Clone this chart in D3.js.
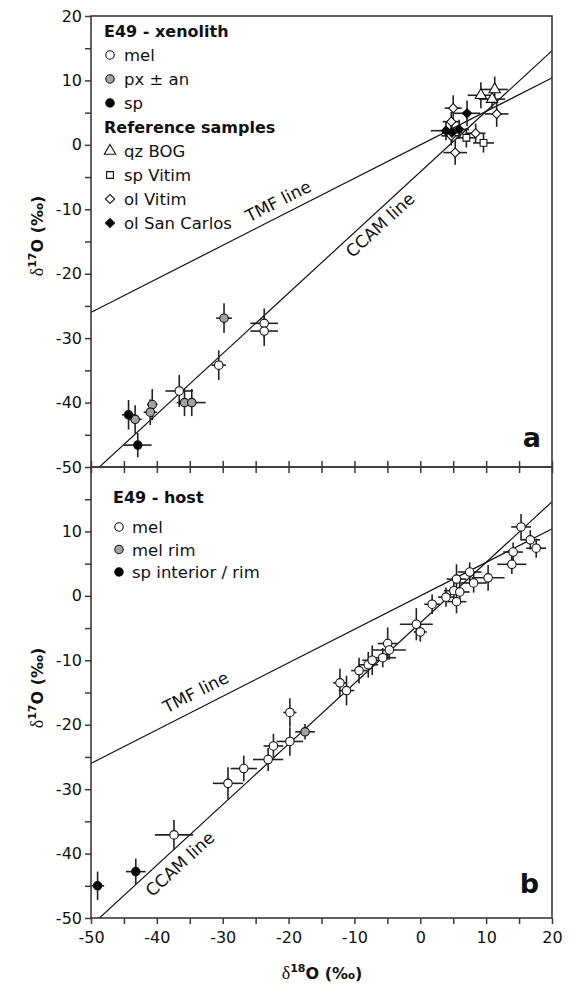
<!doctype html>
<html>
<head>
<meta charset="utf-8"/>
<script src="https://d3js.org/d3.v7.min.js"></script>
<style>
  body { margin: 0; background: #fff; }
  text { font-family: "DejaVu Sans", sans-serif; fill: #111; }
</style>
</head>
<body>
<svg id="chart"></svg>
<script>
// each point: [d18O, d17O, err18, err17]
var xenoMel = [[-23.7,-27.7,2.1,2.3],[-23.7,-28.9,2.1,2.3],[-30.6,-34.2,1.1,2.3],[-36.6,-38.2,2.1,2.5]];
var xenoPx = [[-29.8,-26.9,1.2,2.3],[-35.8,-40.0,1.2,2.1],[-34.7,-40.0,2.1,2.1],[-40.7,-40.3,0.8,2.4],[-41.0,-41.5,1.0,2.0],[-43.3,-42.6,1.0,2.2]];
var xenoSp = [[-44.3,-41.9,1.0,2.3],[-42.9,-46.6,2.1,1.9]];
var qzBog = [[9.2,7.7,2.0,2.0],[11.3,8.6,2.0,2.0],[10.9,7.1,2.0,1.5]];
var spVitim = [[7.0,1.1,1.5,1.5],[9.6,0.3,1.6,1.5]];
var olVitim = [[5.0,5.7,1.3,2.0],[11.6,4.8,1.8,2.0],[4.7,3.6,1.3,1.5],[8.4,1.8,1.5,1.5],[5.3,-1.2,1.8,1.9],[4.7,1.4,1.5,1.5]];
var olSanCarlos = [[7.1,4.9,2.0,2.0],[3.9,2.2,2.3,1.5],[4.8,1.9,1.5,1.5],[5.9,2.4,1.5,1.5]];

var hostMel = [[-37.4,-37.1,2.9,2.3],[-29.2,-29.1,2.3,2.5],[-26.8,-26.8,2.0,2.0],[-23.1,-25.4,2.3,1.8],
  [-22.3,-23.3,1.5,1.9],[-19.8,-22.6,2.0,2.2],[-19.8,-18.1,1.0,2.2],[-12.2,-13.5,1.0,2.2],[-11.2,-14.7,1.2,2.3],
  [-9.3,-11.6,1.2,2.0],[-7.9,-10.7,1.5,2.0],[-7.3,-10.0,1.5,2.3],[-5.7,-9.6,2.0,1.5],[-4.95,-7.4,1.5,2.5],
  [-4.7,-8.4,2.5,1.5],[-0.6,-4.4,2.5,2.5],[0.0,-5.6,1.0,1.5],[1.8,-1.3,1.2,1.5],[3.9,-0.2,1.2,1.5],
  [5.1,0.8,1.5,1.5],[6.0,0.6,1.5,1.8],[5.5,-0.9,1.5,1.8],[5.5,2.6,1.5,2.3],[7.5,3.7,1.8,1.5],[8.1,2.0,2.0,1.5],
  [10.3,2.8,2.5,2.0],[13.9,4.9,2.2,1.5],[14.1,6.8,1.5,1.5],[15.3,10.7,1.5,2.0],[16.7,8.7,1.5,1.5],[17.6,7.4,1.5,1.5]];
var hostMelRim = [[-17.5,-21.1,1.5,1.2]];
var hostSp = [[-49.0,-45.0,1.0,2.2],[-43.2,-42.8,1.5,2.0]];

// [name, slope, intercept]
var refLines = [["TMF line", 0.52, 0], ["CCAM line", 0.94, -4.2]];
var xTicks = d3.range(-50, 21, 5);
var yTicks = d3.range(-50, 21, 5);

var W = 571, H = 985;
var svg = d3.select("#chart").attr("width", W).attr("height", H);

var x = d3.scaleLinear().domain([-50, 20]).range([91, 552]);
var yA = d3.scaleLinear().domain([-50, 20]).range([467, 16]);
var yB = d3.scaleLinear().domain([-50, 20]).range([918, 467]);

var grey = "#a3a3a3";

function shape(kind, size) {
  if (kind == "circle") return d3.symbol().type(d3.symbolCircle).size(size)();
  if (kind == "triangle") return d3.symbol().type(d3.symbolTriangle).size(size)();
  return d3.symbol().type(d3.symbolSquare).size(size)();
}
var sizes = {circle: 56, triangle: 56, square: 46, diamond: 42};

function drawPanel(y, id, series, lineLabels) {
  var g = svg.append("g");
  svg.append("clipPath").attr("id", id).append("rect")
    .attr("x", x(-50)).attr("y", y(20)).attr("width", x(20) - x(-50)).attr("height", y(-50) - y(20));

  // reference lines
  var lg = g.append("g").attr("clip-path", "url(#" + id + ")");
  refLines.forEach(function(l, i) {
    lg.append("line")
      .attr("x1", x(-55)).attr("y1", y(l[1] * -55 + l[2]))
      .attr("x2", x(25)).attr("y2", y(l[1] * 25 + l[2]))
      .attr("stroke", "#111").attr("stroke-width", 1.2);
    var lab = lineLabels[i];
    var px = x(lab[0]), py = y(l[1] * lab[0] + l[2]);
    var ang = Math.atan2(y(l[1] * (lab[0] + 1) + l[2]) - py, x(lab[0] + 1) - px) * 180 / Math.PI;
    g.append("text")
      .attr("transform", "translate(" + px + "," + py + ") rotate(" + ang + ")")
      .attr("y", lab[1]).attr("text-anchor", "middle").attr("dominant-baseline", "central")
      .style("font-size", "17px").text(l[0]);
  });

  // error bars then markers
  series.forEach(function(s) {
    var pg = g.append("g");
    pg.selectAll(".ex").data(s.data).enter().append("line")
      .attr("x1", d => x(d[0] - d[2])).attr("x2", d => x(d[0] + d[2]))
      .attr("y1", d => y(d[1])).attr("y2", d => y(d[1]))
      .attr("stroke", "#222").attr("stroke-width", 1.6);
    pg.selectAll(".ey").data(s.data).enter().append("line")
      .attr("x1", d => x(d[0])).attr("x2", d => x(d[0]))
      .attr("y1", d => y(d[1] - d[3])).attr("y2", d => y(d[1] + d[3]))
      .attr("stroke", "#222").attr("stroke-width", 1.6);
  });
  series.forEach(function(s) {
    g.append("g").selectAll("path").data(s.data).enter().append("path")
      .attr("d", shape(s.shape, sizes[s.shape]))
      .attr("transform", d => "translate(" + x(d[0]) + "," + y(d[1]) + ")" + (s.shape == "diamond" ? " rotate(45)" : ""))
      .attr("fill", s.fill).attr("stroke", "#111").attr("stroke-width", 1.1);
  });

  // frame
  g.append("rect").attr("x", x(-50)).attr("y", y(20))
    .attr("width", x(20) - x(-50)).attr("height", y(-50) - y(20))
    .attr("fill", "none").attr("stroke", "#3a3a3a").attr("stroke-width", 1.6);

  // left axis
  var ax = g.append("g").attr("transform", "translate(" + x(-50) + ",0)")
    .call(d3.axisLeft(y).tickValues(id == "clipB" ? yTicks.filter(v => v < 20) : yTicks)
      .tickSize(6).tickPadding(3)
      .tickFormat(v => v % 10 == 0 ? v : ""));
  ax.select(".domain").remove();
  ax.selectAll("line").attr("stroke", "#3a3a3a").attr("stroke-width", 1.5);
  ax.selectAll("text").style("font-size", "16px").attr("fill", "#111")
    .style("font-family", "'DejaVu Sans', sans-serif");
  return g;
}

var lgA = drawPanel(yA, "clipA", [
  {data: xenoMel, shape: "circle", fill: "#fff"},
  {data: xenoPx, shape: "circle", fill: grey},
  {data: xenoSp, shape: "circle", fill: "#000"},
  {data: qzBog, shape: "triangle", fill: "#fff"},
  {data: spVitim, shape: "square", fill: "#fff"},
  {data: olVitim, shape: "diamond", fill: "#fff"},
  {data: olSanCarlos, shape: "diamond", fill: "#000"}
], [[-20.6, -14.3], [-7.3, 11.8]]);

var lgB = drawPanel(yB, "clipB", [
  {data: hostMel, shape: "circle", fill: "#fff"},
  {data: hostMelRim, shape: "circle", fill: grey},
  {data: hostSp, shape: "circle", fill: "#000"}
], [[-33.0, -16], [-38.0, 14.7]]);

// ticks on the shared boundary and bottom axis
function tickRow(axis, yPos, labels) {
  var a = svg.append("g").attr("transform", "translate(0," + yPos + ")")
    .call(axis(x).tickValues(xTicks).tickSize(6).tickPadding(8)
      .tickFormat(v => labels && v % 10 == 0 ? v : ""));
  a.select(".domain").remove();
  a.selectAll("line").attr("stroke", "#3a3a3a").attr("stroke-width", 1.5);
  a.selectAll("text").style("font-size", "16px").attr("fill", "#111")
    .style("font-family", "'DejaVu Sans', sans-serif");
}
tickRow(d3.axisBottom, 467, false);
tickRow(d3.axisTop, 467, false);
tickRow(d3.axisBottom, 918, true);

// legends
function legend(items, x0, xs, xt, rows) {
  var g = svg.append("g");
  items.forEach(function(it, i) {
    var yb = rows[i];
    if (it.head) {
      g.append("text").attr("x", x0).attr("y", yb).style("font-size", "16px")
        .style("font-weight", "bold").text(it.label);
    } else {
      g.append("path").attr("d", shape(it.shape, sizes[it.shape]))
        .attr("transform", "translate(" + xs + "," + (yb - 6) + ")" + (it.shape == "diamond" ? " rotate(45)" : ""))
        .attr("fill", it.fill).attr("stroke", "#111").attr("stroke-width", 1.1);
      g.append("text").attr("x", xt).attr("y", yb).style("font-size", "16.5px").text(it.label);
    }
  });
}
legend([
  {head: true, label: "E49 - xenolith"},
  {label: "mel", shape: "circle", fill: "#fff"},
  {label: "px \u00b1 an", shape: "circle", fill: grey},
  {label: "sp", shape: "circle", fill: "#000"},
  {head: true, label: "Reference samples"},
  {label: "qz BOG", shape: "triangle", fill: "#fff"},
  {label: "sp Vitim", shape: "square", fill: "#fff"},
  {label: "ol Vitim", shape: "diamond", fill: "#fff"},
  {label: "ol San Carlos", shape: "diamond", fill: "#000"}
], 104, 110, 124, d3.range(9).map(i => 37 + 24 * i));

legend([
  {head: true, label: "E49 - host"},
  {label: "mel", shape: "circle", fill: "#fff"},
  {label: "mel rim", shape: "circle", fill: grey},
  {label: "sp interior / rim", shape: "circle", fill: "#000"}
], 113, 119, 132, [503, 533, 555.5, 578]);

// panel letters
svg.append("text").attr("x", 541).attr("y", 447).attr("text-anchor", "end")
  .style("font-size", "27px").style("font-weight", "bold").text("a");
svg.append("text").attr("x", 539).attr("y", 893).attr("text-anchor", "end")
  .style("font-size", "27px").style("font-weight", "bold").text("b");

// axis titles
function title(tx, ty, rot, sup) {
  var tt = svg.append("text").attr("transform", "translate(" + tx + "," + ty + ") rotate(" + rot + ")")
    .attr("text-anchor", "middle").style("font-size", "16px").style("font-weight", "bold");
  tt.append("tspan").style("font-family", "'Liberation Serif', serif").style("font-weight", "normal")
    .style("font-size", "18px").text("\u03b4");
  tt.append("tspan").attr("dy", -7).style("font-size", "11px").text(sup);
  tt.append("tspan").attr("dy", 7).text("O (\u2030)");
}
title(43, 236, -90, "17");
title(43, 688, -90, "17");
title(322, 979, 0, "18");
</script>
</body>
</html>
